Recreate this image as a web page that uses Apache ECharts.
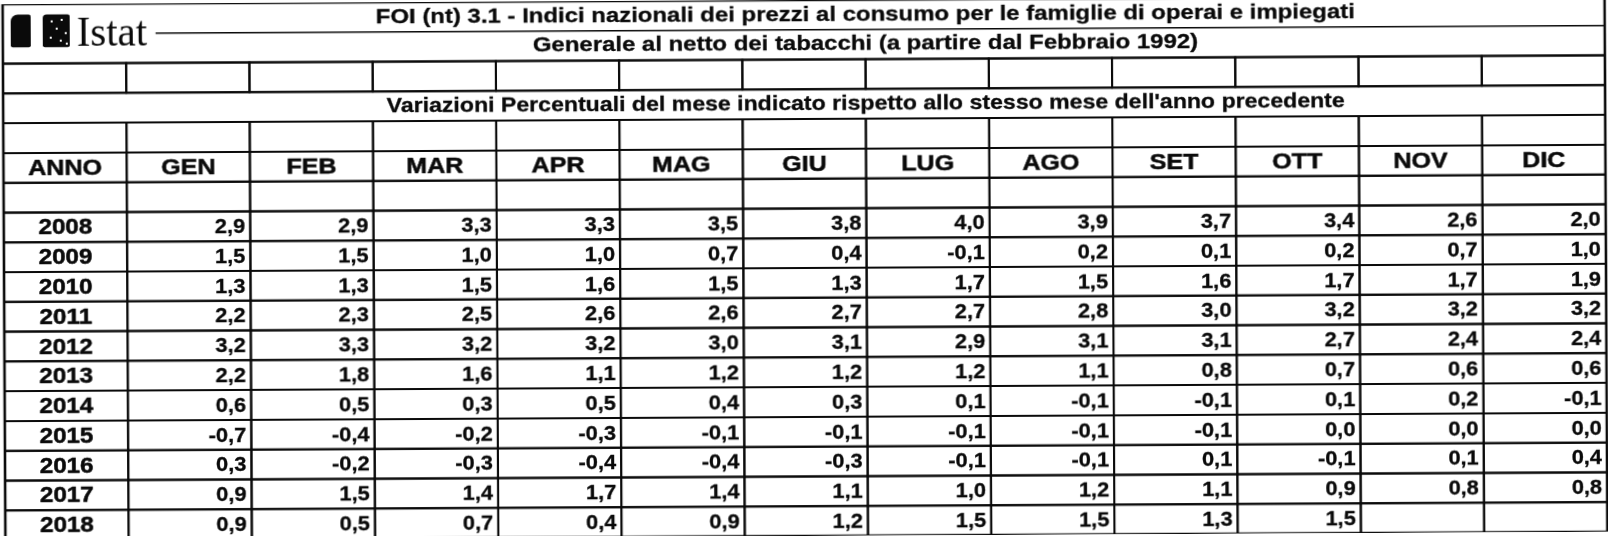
<!DOCTYPE html>
<html>
<head>
<meta charset="utf-8">
<script src="https://cdn.jsdelivr.net/npm/echarts@6/dist/echarts.min.js"></script>
<style>
html,body{margin:0;padding:0;background:#fff;overflow:hidden}
#chart{width:1608px;height:536px;transform:rotate(-0.3deg);transform-origin:50% 50%}
</style>
</head>
<body>
<div id="chart"></div>
<script>
// ---- Text ----
const TITLE = 'FOI (nt) 3.1 - Indici nazionali dei prezzi al consumo per le famiglie di operai e impiegati';
const SUBTITLE = 'Generale al netto dei tabacchi (a partire dal Febbraio 1992)';
const BANNER = "Variazioni Percentuali del mese indicato rispetto allo stesso mese dell'anno precedente";
const LOGO_TEXT = 'Istat';

// ---- Categories ----
const headers = ['ANNO', 'GEN', 'FEB', 'MAR', 'APR', 'MAG', 'GIU', 'LUG', 'AGO', 'SET', 'OTT', 'NOV', 'DIC'];
const years = ['2008', '2009', '2010', '2011', '2012', '2013', '2014', '2015', '2016', '2017', '2018'];

// ---- Values (% change vs same month of previous year) ----
const v2008 = [2.9, 2.9, 3.3, 3.3, 3.5, 3.8, 4.0, 3.9, 3.7, 3.4, 2.6, 2.0];
const v2009 = [1.5, 1.5, 1.0, 1.0, 0.7, 0.4, -0.1, 0.2, 0.1, 0.2, 0.7, 1.0];
const v2010 = [1.3, 1.3, 1.5, 1.6, 1.5, 1.3, 1.7, 1.5, 1.6, 1.7, 1.7, 1.9];
const v2011 = [2.2, 2.3, 2.5, 2.6, 2.6, 2.7, 2.7, 2.8, 3.0, 3.2, 3.2, 3.2];
const v2012 = [3.2, 3.3, 3.2, 3.2, 3.0, 3.1, 2.9, 3.1, 3.1, 2.7, 2.4, 2.4];
const v2013 = [2.2, 1.8, 1.6, 1.1, 1.2, 1.2, 1.2, 1.1, 0.8, 0.7, 0.6, 0.6];
const v2014 = [0.6, 0.5, 0.3, 0.5, 0.4, 0.3, 0.1, -0.1, -0.1, 0.1, 0.2, -0.1];
const v2015 = [-0.7, -0.4, -0.2, -0.3, -0.1, -0.1, -0.1, -0.1, -0.1, 0.0, 0.0, 0.0];
const v2016 = [0.3, -0.2, -0.3, -0.4, -0.4, -0.3, -0.1, -0.1, 0.1, -0.1, 0.1, 0.4];
const v2017 = [0.9, 1.5, 1.4, 1.7, 1.4, 1.1, 1.0, 1.2, 1.1, 0.9, 0.8, 0.8];
const v2018 = [0.9, 0.5, 0.7, 0.4, 0.9, 1.2, 1.5, 1.5, 1.3, 1.5, null, null];

const valueRows = [v2008, v2009, v2010, v2011, v2012, v2013, v2014, v2015, v2016, v2017, v2018];

// ---- Build table cells (column index, row index) ----
const rowKeys = ['title', 'subtitle', 'gap1', 'banner', 'gap2', 'header', 'gap3'].concat(years);
const NC = headers.length;
const cells = [];
cells.push({ kind: 'logo', col: 0, row: 0, span: NC });
cells.push({ kind: 'title', col: 0, row: 0, span: NC, text: TITLE });
cells.push({ kind: 'title', col: 0, row: 1, span: NC, text: SUBTITLE, bottom: true });
for (let c = 0; c < NC; c++) cells.push({ kind: 'blank', col: c, row: 2, span: 1 });
cells.push({ kind: 'banner', col: 0, row: 3, span: NC, text: BANNER });
for (let c = 0; c < NC; c++) cells.push({ kind: 'blank', col: c, row: 4, span: 1 });
for (let c = 0; c < NC; c++) cells.push({ kind: 'head', col: c, row: 5, span: 1, text: headers[c] });
for (let c = 0; c < NC; c++) cells.push({ kind: 'blank', col: c, row: 6, span: 1 });
years.forEach((y, i) => {
  const r = 7 + i;
  cells.push({ kind: 'year', col: 0, row: r, span: 1, text: y });
  valueRows[i].forEach((v, j) => {
    cells.push({ kind: 'val', col: j + 1, row: r, span: 1,
      text: v == null ? '' : v.toFixed(1).replace('.', ',') });
  });
});
cells.push({ kind: 'frame', col: 0, row: 0, span: NC });

const INK = '#0a0a0a';
function txt(x, y, text, o) {
  return {
    type: 'text', x: x, y: y, scaleX: o.sx || 1,
    style: {
      text: text, fill: INK,
      stroke: o.sw ? INK : null, lineWidth: o.sw || 0,
      fontFamily: o.ff || '"Liberation Sans", Arial, sans-serif',
      fontSize: o.fs, fontWeight: o.fw || 'bold',
      align: o.align || 'center', verticalAlign: 'middle'
    }
  };
}
function box(x, y, w, h, lw) {
  return { type: 'rect', shape: { x: x, y: y, width: w, height: h },
    style: { fill: 'none', stroke: INK, lineWidth: lw || 2 } };
}

function renderItem(params, api) {
  const c = cells[params.dataIndex];
  const p = api.coord([api.value(0), api.value(1)]);
  const sz = api.size([1, 1]);
  const w = Math.abs(sz[0]), h = Math.abs(sz[1]);
  const x0 = p[0] - w / 2, y0 = p[1] - h / 2;
  const W = w * c.span;
  const midText = x0 + w + (w * (NC - 1)) / 2; // centre over the month columns
  const ch = [];
  if (c.kind === 'logo') {
    ch.push({ type: 'rect', shape: { x: x0 + 8, y: y0 + 0.35 * h, width: 20, height: 1.1 * h, r: [7, 2, 2, 2] }, style: { fill: INK } });
    ch.push({ type: 'rect', shape: { x: x0 + 40, y: y0 + 0.35 * h, width: 27, height: 1.1 * h, r: [4, 2, 2, 2] }, style: { fill: INK } });
    const dots = [[48, 0.55], [58, 0.5], [53, 0.8], [62, 0.95], [47, 1.1], [57, 1.2], [63, 1.3]];
    dots.forEach(d => ch.push({ type: 'rect', shape: { x: x0 + d[0], y: y0 + d[1] * h, width: 2, height: 2 }, style: { fill: '#fff' } }));
    ch.push({ type: 'text', x: x0 + 74, y: y0 + 1.74 * h, scaleX: 0.95,
      style: { text: LOGO_TEXT, fill: INK, fontFamily: '"Liberation Serif", "Times New Roman", serif', fontSize: 43, align: 'left', verticalAlign: 'bottom' } });
    ch.push({ type: 'line', shape: { x1: x0 + 1.24 * w, y1: y0 + h, x2: x0 + W, y2: y0 + h }, style: { stroke: INK, lineWidth: 1.6 } });
  } else if (c.kind === 'title') {
    ch.push(txt(midText, p[1], c.text, { fs: 21, sx: 1.14, sw: 0.3 }));
    if (c.bottom) ch.push({ type: 'line', shape: { x1: x0, y1: y0 + h, x2: x0 + W, y2: y0 + h }, style: { stroke: INK, lineWidth: 2 } });
  } else if (c.kind === 'banner') {
    ch.push(box(x0, y0, W, h));
    ch.push(txt(midText, p[1], c.text, { fs: 21, sx: 1.1, sw: 0.3 }));
  } else if (c.kind === 'blank') {
    ch.push(box(x0, y0, W, h));
  } else if (c.kind === 'head') {
    ch.push(box(x0, y0, W, h));
    ch.push(txt(x0 + W / 2, p[1] + 1, c.text, { fs: 22, sx: 1.14, sw: 0.5 }));
  } else if (c.kind === 'year') {
    ch.push(box(x0, y0, W, h));
    ch.push(txt(x0 + W / 2, p[1] + 1, c.text, { fs: 22, sx: 1.1, sw: 0.5 }));
  } else if (c.kind === 'val') {
    ch.push(box(x0, y0, W, h));
    ch.push(txt(x0 + W - 5, p[1] + 1, c.text, { fs: 21, sx: 1.04, align: 'right', sw: 0.3 }));
  } else if (c.kind === 'frame') {
    ch.push(box(x0, y0, W, h * rowKeys.length, 2.6));
  }
  return { type: 'group', children: ch };
}

const chart = echarts.init(document.getElementById('chart'), null, { renderer: 'canvas' });
chart.setOption({
  backgroundColor: '#fff',
  animation: false,
  grid: { left: 4, top: 0, width: 1602, height: 538, containLabel: false },
  xAxis: { type: 'category', data: headers, show: false, boundaryGap: true },
  yAxis: { type: 'category', data: rowKeys, inverse: true, show: false, boundaryGap: true },
  tooltip: { show: false },
  series: [{
    type: 'custom',
    renderItem: renderItem,
    clip: false,
    silent: true,
    data: cells.map(c => [c.col, c.row])
  }]
});
</script>
</body>
</html>
